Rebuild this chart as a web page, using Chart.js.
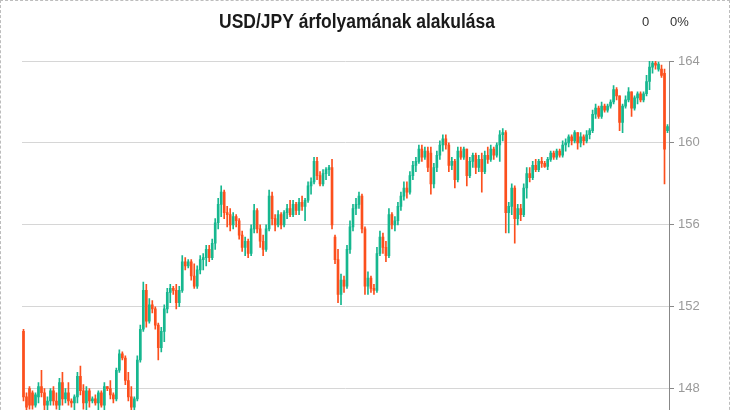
<!DOCTYPE html>
<html>
<head>
<meta charset="utf-8">
<script src="https://cdn.jsdelivr.net/npm/chart.js@4.4.0/dist/chart.umd.min.js"></script>
<style>
  html, body { margin: 0; padding: 0; overflow: hidden; background: #fff; }
  #wrap { position: absolute; left: 0; top: 0; width: 730px; height: 440px; box-sizing: border-box; border: 1px dashed #bdbdbd; }
  canvas { display: block; }
</style>
</head>
<body>
<div id="wrap"><canvas id="chart" width="728" height="430"></canvas></div>
<script>
const title = "USD/JPY árfolyamának alakulása";
const changeAbs = "0";
const changePct = "0%";
const yTicks = [148, 152, 156, 160, 164];

// candle data (open / high / low / close)
const opens = [
  150.8,147.6,148.0,147.8,147.2,147.6,148.1,147.8,147.2,147.4,147.9,147.4,147.2,148.3,147.5,147.8,147.4,147.3,147.6,148.6,
  147.9,147.3,147.9,147.4,147.5,147.3,147.8,147.2,148.1,148.0,147.7,147.5,148.9,149.7,149.5,148.4,147.6,147.1,147.5,149.4,
  150.9,152.8,151.3,152.1,151.9,151.1,150.0,150.8,151.9,152.7,152.9,152.8,152.2,152.8,154.2,154.0,154.2,153.5,153.0,153.8,
  154.3,154.4,154.8,154.4,155.1,156.1,157.0,157.6,156.6,156.5,156.0,156.4,156.2,155.5,154.9,155.2,154.6,155.8,156.7,155.8,
  155.2,154.8,155.8,157.4,156.3,156.0,156.5,156.0,156.6,156.8,156.5,157.0,156.7,157.1,156.9,157.2,157.9,158.1,159.1,158.4,
  158.0,158.5,158.7,158.8,155.4,154.3,152.6,153.3,153.0,154.8,155.9,156.8,157.0,157.4,155.8,153.0,153.4,152.9,152.8,154.6,
  155.4,154.9,154.5,156.5,156.0,156.2,156.9,157.4,157.8,157.6,158.4,158.9,159.1,159.7,159.3,159.6,159.5,158.0,158.8,159.4,
  159.9,160.2,159.9,158.9,159.1,158.2,159.6,159.3,159.7,158.4,159.1,159.4,158.8,159.2,158.6,159.4,159.2,159.7,159.4,159.9,
  160.4,160.5,156.6,156.9,157.8,156.3,156.8,156.5,157.8,158.5,158.3,158.9,158.7,159.1,159.0,158.85,159.2,159.5,159.3,159.6,
  159.4,159.9,160.0,160.3,160.1,160.5,160.0,160.3,160.1,160.4,160.6,161.4,161.7,161.3,161.8,161.6,161.8,162.0,162.6,162.3,
  161.0,161.8,162.1,162.5,161.7,162.2,162.4,162.1,162.4,163.0,163.7,163.9,163.6,163.6,163.4,160.6
];
const highs = [
  150.9,147.8,148.1,147.9,147.8,148.3,148.9,148.0,147.6,148.0,148.1,147.8,148.5,148.8,148.0,148.3,147.5,147.7,148.8,149.1,
  148.2,148.1,148.0,147.6,147.7,147.9,147.9,148.3,148.1,148.4,147.8,149.0,149.9,149.8,149.6,148.8,148.1,147.6,149.6,151.1,
  153.2,153.1,152.4,152.3,152.0,151.2,151.0,152.1,152.9,153.1,153.0,153.1,153.0,154.5,154.4,154.3,154.3,154.1,154.0,154.5,
  154.6,155.0,155.0,155.3,156.3,157.3,157.9,157.7,156.9,156.8,156.6,156.5,156.3,155.7,155.4,155.3,156.0,157.0,156.8,156.0,
  155.5,156.0,157.7,157.6,156.5,156.7,156.6,156.7,157.0,157.2,157.2,157.1,157.3,157.4,157.3,158.1,158.3,159.3,159.3,158.6,
  158.7,158.8,158.9,159.2,155.5,154.8,153.6,153.5,155.0,156.2,157.0,157.3,157.6,157.5,155.9,153.7,153.5,153.1,154.9,155.7,
  155.6,155.2,156.8,156.6,156.4,157.1,157.6,158.1,158.1,158.6,159.1,159.3,159.9,159.9,159.8,159.8,159.8,159.0,159.6,160.1,
  160.4,160.4,160.0,159.3,159.2,159.8,159.8,159.8,159.7,159.3,159.5,159.5,159.4,159.5,159.6,159.8,159.9,159.8,160.0,160.6,
  160.7,160.6,157.1,158.0,157.9,157.0,157.0,158.0,158.8,158.8,159.1,159.2,159.2,159.3,159.1,159.3,159.6,159.6,159.7,159.7,
  160.1,160.2,160.4,160.4,160.6,160.5,160.5,160.4,160.6,160.7,161.6,161.9,161.8,162.0,161.9,161.9,162.1,162.8,162.7,162.3,
  161.9,162.3,162.7,162.5,162.3,162.5,162.5,162.5,163.3,164.0,164.0,164.0,163.95,163.8,163.6,160.9
];
const lows = [
  147.4,146.9,147.0,147.0,147.1,147.3,147.6,146.9,146.8,147.2,147.2,147.0,146.9,147.2,147.3,147.2,147.1,146.9,147.3,147.7,
  147.0,146.9,147.1,147.3,147.2,146.9,147.1,146.9,147.9,147.5,147.3,147.4,148.8,149.4,148.2,147.4,146.8,146.8,147.4,149.3,
  150.8,151.0,151.2,151.7,150.9,149.4,149.8,150.3,151.7,152.2,152.6,151.9,152.0,152.7,153.8,153.9,153.3,152.9,152.9,153.6,
  153.8,154.0,154.2,154.3,154.8,155.8,156.4,156.3,155.9,155.7,155.8,155.9,155.3,154.7,154.5,154.4,154.5,155.6,155.6,154.9,
  154.5,154.7,155.7,156.0,155.7,155.9,155.8,155.9,156.3,156.4,156.4,156.5,156.5,156.7,156.2,157.1,157.5,158.0,158.2,157.9,
  157.9,158.2,158.4,155.8,154.1,152.2,152.1,152.7,152.9,154.6,155.7,156.5,156.8,155.6,152.6,152.6,152.7,152.6,152.7,154.5,
  154.6,154.2,154.4,155.8,155.7,156.0,156.7,157.2,157.3,157.5,158.2,158.6,159.0,159.1,159.2,158.6,157.5,157.8,158.6,159.2,
  159.6,159.7,158.6,158.7,157.8,158.1,159.2,159.2,157.9,158.3,158.8,158.5,158.6,157.6,158.5,159.0,159.1,159.2,159.3,159.1,
  160.1,155.6,155.6,156.5,155.1,156.0,156.2,156.4,157.3,158.1,158.2,158.6,158.6,158.8,158.8,158.7,159.1,159.2,159.2,159.3,
  159.3,159.6,159.8,159.9,160.0,159.7,159.8,159.9,160.0,160.2,160.5,161.2,161.2,161.2,161.5,161.5,161.7,161.9,162.1,160.6,
  160.5,161.7,162.0,161.3,161.6,161.9,162.0,162.0,162.3,162.6,163.4,163.6,163.5,163.2,158.0,160.5
];
const closes = [
  147.6,147.1,147.2,147.2,147.7,148.1,147.8,147.2,147.4,147.9,147.4,147.2,148.3,147.5,147.8,147.4,147.3,147.6,148.6,147.9,
  147.3,147.9,147.4,147.5,147.3,147.8,147.2,148.1,148.0,147.7,147.5,148.9,149.7,149.5,148.4,147.6,147.1,147.5,149.4,150.9,
  152.8,151.3,152.1,151.9,151.1,150.0,150.8,151.9,152.7,152.9,152.8,152.2,152.8,154.2,154.0,154.2,153.5,153.0,153.8,154.3,
  154.4,154.8,154.4,155.1,156.1,157.0,157.6,156.6,156.5,156.0,156.4,156.2,155.5,154.9,155.2,154.6,155.8,156.7,155.8,155.2,
  154.8,155.8,157.4,156.3,156.0,156.5,156.0,156.6,156.8,156.5,157.0,156.7,157.1,156.9,157.2,157.9,158.1,159.1,158.4,158.0,
  158.5,158.7,158.8,156.0,154.3,152.6,153.3,153.0,154.8,155.9,156.8,157.0,157.4,155.8,153.0,153.4,152.9,152.8,154.6,155.4,
  154.9,154.5,156.5,156.0,156.2,156.9,157.4,157.8,157.6,158.4,158.9,159.1,159.7,159.3,159.6,158.8,158.0,158.8,159.4,159.9,
  160.2,159.9,158.9,159.1,158.2,159.6,159.3,159.7,158.4,159.1,159.4,158.8,159.2,158.6,159.4,159.2,159.7,159.4,159.9,160.4,
  160.5,156.6,156.9,157.8,156.3,156.8,156.5,157.8,158.5,158.3,158.9,158.7,159.1,159.0,158.85,159.2,159.5,159.3,159.6,159.4,
  159.9,160.0,160.3,160.1,160.5,160.0,160.3,160.1,160.4,160.6,161.4,161.7,161.3,161.8,161.6,161.8,162.0,162.6,162.3,161.0,
  161.8,162.1,162.5,161.7,162.2,162.4,162.1,162.4,163.0,163.7,163.9,163.8,163.85,163.3,159.7,160.8
];

const UP = "#16b78f";
const DOWN = "#fc4f1d";

const labels = opens.map((_, i) => String(i + 1));
const colors = opens.map((o, i) => closes[i] >= o ? UP : DOWN);
const wicks = lows.map((l, i) => [l, highs[i]]);
const bodies = opens.map((o, i) => [o, closes[i]]);

// header text (title + change figures), drawn on the canvas
const headerPlugin = {
  id: "header",
  afterDraw(chart) {
    const ctx = chart.ctx;
    ctx.save();
    ctx.fillStyle = "#1a1a1a";
    ctx.font = "bold 20px 'Liberation Sans', Arial, sans-serif";
    ctx.textBaseline = "alphabetic";
    const w = ctx.measureText(title).width;
    const sx = 276 / w;
    ctx.translate(356, 27);
    ctx.scale(sx, 1);
    ctx.textAlign = "center";
    ctx.fillText(title, 0, 0);
    ctx.restore();

    ctx.save();
    ctx.fillStyle = "#333";
    ctx.font = "13px 'Liberation Sans', Arial, sans-serif";
    ctx.textAlign = "left";
    ctx.fillText(changeAbs, 641, 25);
    ctx.fillText(changePct, 669, 25);
    ctx.restore();
  }
};

new Chart(document.getElementById("chart"), {
  type: "bar",
  data: {
    labels: labels,
    datasets: [
      {
        label: "body",
        data: bodies,
        backgroundColor: colors,
        barThickness: 2,
        minBarLength: 1,
        grouped: false,
        borderWidth: 0
      },
      {
        label: "wick",
        data: wicks,
        backgroundColor: colors,
        barThickness: 1,
        grouped: false,
        borderWidth: 0
      }
    ]
  },
  options: {
    responsive: false,
    animation: false,
    layout: { padding: { left: 21, top: 60, right: 0, bottom: 0 } },
    plugins: {
      legend: { display: false },
      tooltip: { enabled: false },
      title: { display: false }
    },
    scales: {
      x: {
        type: "category",
        display: false,
        offset: true,
        grid: { display: false }
      },
      y: {
        position: "right",
        min: 146.51,
        max: 164,
        afterBuildTicks: (s) => { s.ticks = yTicks.map(v => ({ value: v })); },
        afterFit: (s) => { s.width = 60; },
        grid: { color: "#d6d6d6", lineWidth: 1, tickLength: 5, tickColor: "#888" },
        border: { display: true, color: "#888", width: 1 },
        ticks: {
          color: "#9a9a9a",
          padding: 4,
          font: { family: "'Liberation Sans', Arial, sans-serif", size: 13 }
        }
      }
    }
  },
  plugins: [headerPlugin]
});
</script>
</body>
</html>
